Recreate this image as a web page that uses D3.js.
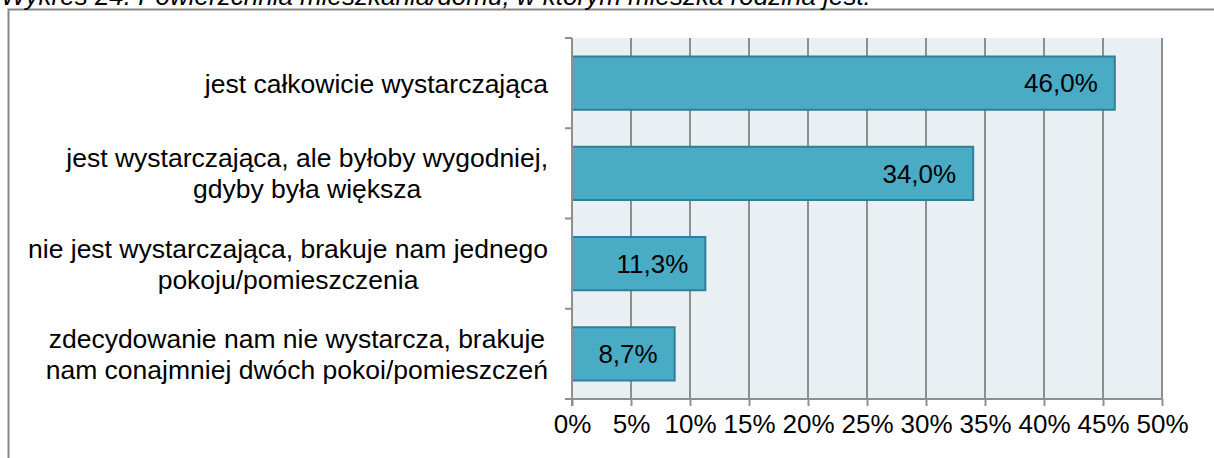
<!DOCTYPE html>
<html><head><meta charset="utf-8">
<script src="https://cdn.jsdelivr.net/npm/d3@7"></script>
<style>body{margin:0;background:#fff;} svg{display:block;font-family:"Liberation Sans",Arial,sans-serif;}</style>
</head><body>
<svg id="c" width="1214" height="458"></svg>
<script>
const title = "Wykres 24. Powierzchnia mieszkania/domu, w którym mieszka rodzina jest:";
const categories = [
  ["jest całkowicie wystarczająca"],
  ["jest wystarczająca, ale byłoby wygodniej,", "gdyby była większa"],
  ["nie jest wystarczająca, brakuje nam jednego", "pokoju/pomieszczenia"],
  ["zdecydowanie nam nie wystarcza, brakuje", "nam conajmniej dwóch pokoi/pomieszczeń"]
];
const values = [46.0, 34.0, 11.3, 8.7];
const xTicks = [0,5,10,15,20,25,30,35,40,45,50];

const svg = d3.select("#c");
const m = {left:572, right:1162, top:38, bottom:399};

svg.append("rect").attr("x",8.5).attr("y",9.5).attr("width",1210).attr("height",470)
  .attr("fill","#fff").attr("stroke","#878787").attr("stroke-width",2);

svg.append("text").attr("x",1).attr("y",5).attr("font-style","italic").attr("font-size",26)
  .attr("fill","#000").text(title);

const x = d3.scaleLinear().domain([0,50]).range([m.left,m.right]);
const y = d3.scaleBand().domain(d3.range(categories.length)).range([m.top,m.bottom]).paddingInner(0.41).paddingOuter(0.205);
const yb = d3.scaleBand().domain(d3.range(categories.length)).range([m.top,m.bottom]);

svg.append("rect").attr("x",m.left).attr("y",m.top).attr("width",m.right-m.left).attr("height",m.bottom-m.top).attr("fill","#e9f0f4");

// gridlines
svg.append("g").selectAll("line").data(xTicks.slice(1)).join("line")
  .attr("x1",d=>x(d)).attr("x2",d=>x(d)).attr("y1",m.top).attr("y2",m.bottom)
  .attr("stroke","#8f8f8f").attr("stroke-width",2);

// bars
svg.append("g").selectAll("rect").data(values).join("rect")
  .attr("x",x(0)).attr("y",(d,i)=>y(i)).attr("width",d=>x(d)-x(0)).attr("height",y.bandwidth())
  .attr("fill","#4aabc5").attr("stroke","#2f8096").attr("stroke-width",2);

svg.append("g").selectAll("text").data(values).join("text")
  .attr("x",d=>x(d)-17).attr("y",(d,i)=>y(i)+y.bandwidth()/2).attr("dy","0.36em")
  .attr("text-anchor","end").attr("font-size",26).attr("fill","#000")
  .text(d=>d.toFixed(1).replace(".",",")+"%");

// x axis
const xa = svg.append("g").attr("transform",`translate(0,${m.bottom})`)
  .call(d3.axisBottom(x).tickValues(xTicks).tickSize(7).tickPadding(9).tickFormat(d=>d+"%"));
xa.select(".domain").attr("stroke","#8f8f8f").attr("stroke-width",2).attr("d",`M${m.left-7},0H${m.right}`);
xa.selectAll(".tick line").attr("stroke","#8f8f8f").attr("stroke-width",2);
xa.selectAll(".tick text").attr("font-size",26).attr("fill","#000").attr("font-family","Liberation Sans, Arial, sans-serif");

// y axis
const ybounds = d3.range(categories.length+1).map(i=> i<categories.length ? yb(i) : m.bottom);
svg.append("line").attr("x1",m.left).attr("x2",m.left).attr("y1",m.top).attr("y2",m.bottom+7)
  .attr("stroke","#8f8f8f").attr("stroke-width",2);
svg.append("g").selectAll("line").data(ybounds).join("line")
  .attr("x1",m.left-7).attr("x2",m.left).attr("y1",d=>d).attr("y2",d=>d)
  .attr("stroke","#8f8f8f").attr("stroke-width",2);

// category labels
const lh = 31;
const lab = svg.append("g").attr("font-size",26.5).attr("fill","#000");
categories.forEach((lines,i)=>{
  const cy = yb(i)+yb.bandwidth()/2;
  const g = lab.append("g");
  const t = g.selectAll("text").data(lines).join("text")
    .attr("y",(d,j)=>cy + (j-(lines.length-1)/2)*lh).attr("dy","0.36em").attr("text-anchor","middle").text(d=>d);
  let w = 0; t.each(function(){ w = Math.max(w,this.getComputedTextLength()); });
  t.attr("x", 548 - w/2);
});
</script>
</body></html>
